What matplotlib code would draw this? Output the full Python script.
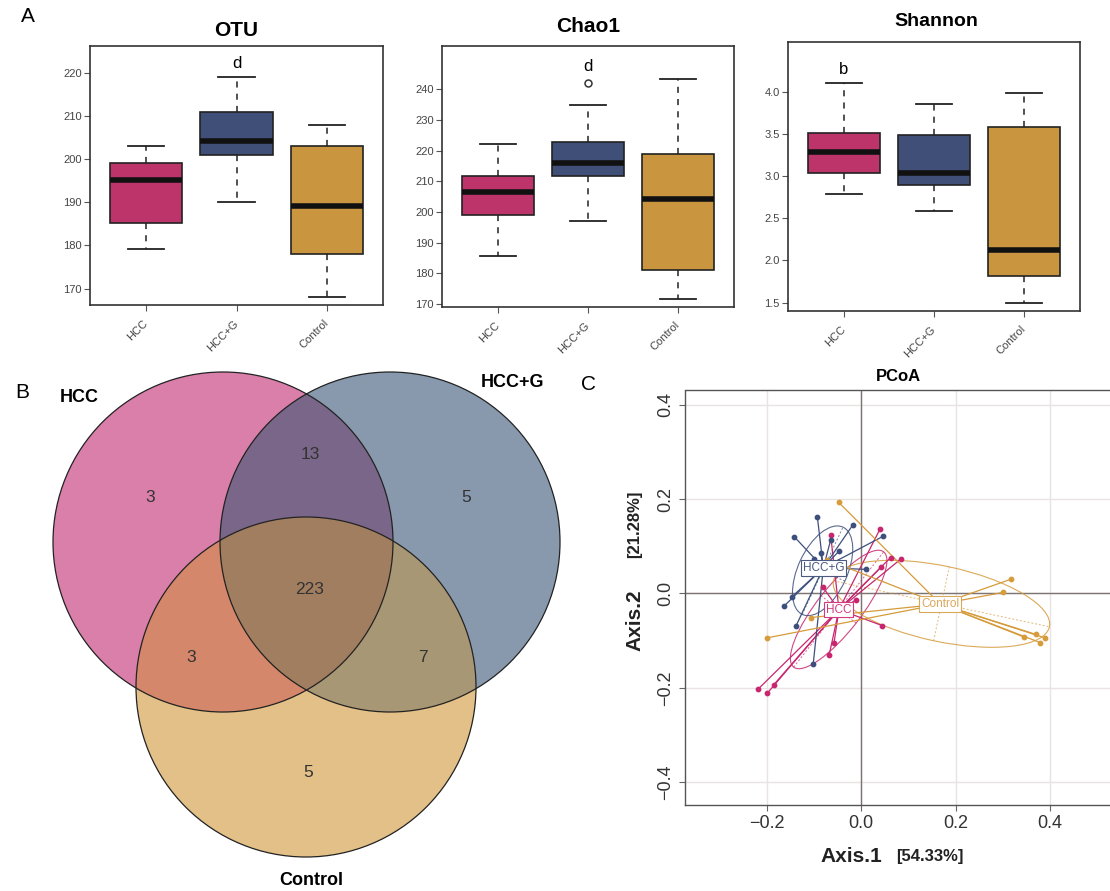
import numpy as np
import matplotlib
matplotlib.use('Agg')
import matplotlib.pyplot as plt
from matplotlib.patches import Circle, Ellipse, Polygon

plt.rcParams['font.family'] = ['Liberation Sans', 'DejaVu Sans']

W, H = 1110, 891

groups = ['HCC', 'HCC+G', 'Control']
box_colors = ['#BC346A', '#3F4F77', '#C9953F']

# --- A: alpha diversity (box stats)
otu_whislo = [179.1, 190.1, 168.1]
otu_q1 = [185.1, 201.0, 178.0]
otu_med = [195.1, 204.1, 189.1]
otu_q3 = [199.0, 211.0, 203.1]
otu_whishi = [203.1, 219.0, 208.0]
otu_fliers = [[], [], []]

chao_whislo = [185.5, 196.9, 171.7]
chao_q1 = [199.1, 211.8, 181.0]
chao_med = [206.4, 216.1, 204.3]
chao_q3 = [211.7, 222.9, 218.8]
chao_whishi = [222.2, 234.9, 243.4]
chao_fliers = [[], [242.0], []]

shan_whislo = [2.79, 2.59, 1.49]
shan_q1 = [3.04, 2.90, 1.82]
shan_med = [3.29, 3.04, 2.12]
shan_q3 = [3.51, 3.49, 3.58]
shan_whishi = [4.10, 3.85, 3.98]
shan_fliers = [[], [], []]

# --- B: venn counts
venn_regions = ['HCC', 'HCC+G', 'Control', 'HCC&HCC+G', 'HCC&Control', 'HCC+G&Control', 'all']
venn_counts = [3, 5, 5, 13, 3, 7, 223]

# --- C: PCoA coordinates
hcc_x = [-0.065, 0.040, 0.062, 0.084, 0.041, -0.082, -0.011, 0.044, -0.058, -0.068, -0.186, -0.218, -0.199]
hcc_y = [0.124, 0.137, 0.076, 0.073, 0.055, 0.014, -0.014, -0.068, -0.106, -0.130, -0.194, -0.202, -0.211]
hccg_x = [-0.093, -0.142, -0.018, 0.046, -0.065, -0.086, -0.048, -0.100, 0.011, -0.147, -0.164, -0.138, -0.102]
hccg_y = [0.161, 0.120, 0.145, 0.121, 0.113, 0.085, 0.089, 0.073, 0.051, -0.007, -0.027, -0.068, -0.150]
ctrl_x = [-0.048, 0.317, 0.300, 0.344, 0.371, 0.389, 0.379, -0.106, -0.199, -0.072]
ctrl_y = [0.193, 0.030, 0.002, -0.092, -0.087, -0.094, -0.104, -0.051, -0.094, 0.071]
# group ellipses (centre, semi axes, angle)
ell_cx = [-0.048, -0.082, 0.170]
ell_cy = [-0.034, 0.048, -0.022]
ell_a = [0.155, 0.102, 0.234]
ell_b = [0.047, 0.052, 0.080]
ell_ang = [52, 65, -12]
pc_colors = ['#C8266F', '#3D4F7C', '#D69B3A']
pc_text_colors = ['#D03C7E', '#4A5A80', '#D9A85A']

fig = plt.figure(figsize=(W / 100, H / 100), dpi=100)


def px_axes(l, t, r, b):
    return fig.add_axes([l / W, 1 - b / H, (r - l) / W, (b - t) / H])


def draw_box(ax, whislo, q1, med, q3, whishi, fliers, ylim, yticks):
    stats = []
    for i in range(3):
        stats.append(dict(whislo=whislo[i], q1=q1[i], med=med[i], q3=q3[i],
                          whishi=whishi[i], fliers=fliers[i]))
    bp = ax.bxp(stats, positions=[1, 2, 3], widths=0.8, patch_artist=True,
                showfliers=True, capwidths=0.4,
                boxprops=dict(lw=1.2, edgecolor='#222222'),
                medianprops=dict(color='#111111', lw=4, solid_capstyle='butt'),
                whiskerprops=dict(color='#222222', lw=1.1, ls=(0, (4, 4))),
                capprops=dict(color='#222222', lw=1.3),
                flierprops=dict(marker='o', mfc='none', mec='#333333', ms=5, mew=1.1))
    for patch, c in zip(bp['boxes'], box_colors):
        patch.set_facecolor(c)
    ax.set_xlim(0.38, 3.62)
    ax.set_ylim(*ylim)
    ax.set_yticks(yticks)
    ax.set_xticks([1, 2, 3])
    ax.set_xticklabels(groups, rotation=45, ha='right', va='center', rotation_mode='anchor')
    ax.tick_params(length=4, width=0.8, color='#555555', labelsize=8, labelcolor='#444444', pad=2)
    ax.tick_params(axis='x', pad=8)
    for s in ax.spines.values():
        s.set_linewidth(1.2)
        s.set_color('#333333')


ax1 = px_axes(90, 46, 383, 305)
draw_box(ax1, otu_whislo, otu_q1, otu_med, otu_q3, otu_whishi, otu_fliers,
         (166.2, 226.2), [170, 180, 190, 200, 210, 220])
ax1.text(2, 222.2, 'd', ha='center', va='center', fontsize=12)
fig.text(236 / W, 1 - 31 / H, 'OTU', ha='center', va='center', fontsize=15, fontweight='bold')

ax2 = px_axes(442, 46, 734, 307)
draw_box(ax2, chao_whislo, chao_q1, chao_med, chao_q3, chao_whishi, chao_fliers,
         (169.0, 254.1), [170, 180, 190, 200, 210, 220, 230, 240])
ax2.text(2, 247.4, 'd', ha='center', va='center', fontsize=12)
fig.text(588 / W, 1 - 27 / H, 'Chao1', ha='center', va='center', fontsize=15, fontweight='bold')

ax3 = px_axes(788, 42, 1080, 311)
draw_box(ax3, shan_whislo, shan_q1, shan_med, shan_q3, shan_whishi, shan_fliers,
         (1.40, 4.59), [1.5, 2.0, 2.5, 3.0, 3.5, 4.0])
ax3.set_yticklabels(['1.5', '2.0', '2.5', '3.0', '3.5', '4.0'])
ax3.text(1, 4.26, 'b', ha='center', va='center', fontsize=12)
fig.text(936 / W, 1 - 22 / H, 'Shannon', ha='center', va='center', fontsize=14, fontweight='bold')

# --- B: Venn
vax = fig.add_axes([0, 0, 620 / W, 551 / H])
vax.set_xlim(0, 620)
vax.set_ylim(891, 340)
vax.axis('off')
R = 170
centers = [(223, 542), (390, 542), (306, 687)]
only_cols = ['#D97FAA', '#8899AE', '#E3C087']
pair_cols = {(0, 1): '#7A6689', (0, 2): '#D4876A', (1, 2): '#A89774'}
triple_col = '#A27E61'
for c, col in zip(centers, only_cols):
    vax.add_patch(Circle(c, R, fc=col, ec='none'))
for (i, j), col in pair_cols.items():
    clip = Circle(centers[i], R, transform=vax.transData)
    p = Circle(centers[j], R, fc=col, ec='none')
    vax.add_patch(p)
    p.set_clip_path(clip)
t = np.linspace(0, 2 * np.pi, 1441)
pts = []
for k in range(3):
    bx = centers[k][0] + R * np.cos(t)
    by = centers[k][1] + R * np.sin(t)
    inside = np.ones_like(t, bool)
    for m in range(3):
        if m != k:
            inside &= (bx - centers[m][0]) ** 2 + (by - centers[m][1]) ** 2 <= R ** 2 + 1e-6
    pts.append(np.c_[bx[inside], by[inside]])
pts = np.vstack(pts)
cen = pts.mean(0)
order = np.argsort(np.arctan2(pts[:, 1] - cen[1], pts[:, 0] - cen[0]))
vax.add_patch(Polygon(pts[order], fc=triple_col, ec='none'))
for c in centers:
    vax.add_patch(Circle(c, R, fill=False, ec='#222222', lw=0.9))

venn_pos = [(150, 497), (466, 497), (308, 772), (310, 454), (191, 657), (423, 657), (310, 589)]
for (x, y), n in zip(venn_pos, venn_counts):
    vax.text(x, y, str(n), ha='center', va='center', fontsize=12.5, color='#333333')
vax.text(79, 397, 'HCC', ha='center', va='center', fontsize=13, fontweight='bold')
vax.text(513, 382, 'HCC+G', ha='center', va='center', fontsize=13, fontweight='bold')
vax.text(311, 880, 'Control', ha='center', va='center', fontsize=13, fontweight='bold')

# panel letters
fig.text(28 / W, 1 - 16 / H, 'A', ha='center', va='center', fontsize=15)
fig.text(22 / W, 1 - 392 / H, 'B', ha='center', va='center', fontsize=15)
fig.text(588 / W, 1 - 385 / H, 'C', ha='center', va='center', fontsize=15)

# --- C: PCoA
pax = px_axes(685, 390.5, 1112, 805)
pax.set_xlim(-0.3738, 0.5316)
pax.set_ylim(-0.4483, 0.430)
pax.set_xticks([-0.2, 0.0, 0.2, 0.4])
pax.set_yticks([-0.4, -0.2, 0.0, 0.2, 0.4])
pax.set_xticklabels(['\u22120.2', '0.0', '0.2', '0.4'])
pax.set_yticklabels(['\u22120.4', '\u22120.2', '0.0', '0.2', '0.4'], rotation=90, va='center')
pax.grid(True, color='#EAE3E3', lw=1)
pax.set_axisbelow(True)
pax.axhline(0, color='#7F7474', lw=1, zorder=1)
pax.axvline(0, color='#7F7474', lw=1, zorder=1)
pax.spines['right'].set_visible(False)
for s in ['left', 'bottom', 'top']:
    pax.spines[s].set_color('#555555')
    pax.spines[s].set_linewidth(1.0)
pax.tick_params(length=4, width=0.8, color='#666666', labelsize=13, labelcolor='#333333')
pax.set_title('PCoA', fontsize=12, fontweight='bold', pad=7)

for k, (xs, ys, col, tcol, name) in enumerate(zip([hcc_x, hccg_x, ctrl_x], [hcc_y, hccg_y, ctrl_y],
                                                  pc_colors, pc_text_colors, groups)):
    x = np.array(xs)
    y = np.array(ys)
    cx, cy = x.mean(), y.mean()
    ex, ey, a, b = ell_cx[k], ell_cy[k], ell_a[k], ell_b[k]
    th = np.radians(ell_ang[k])
    pax.add_patch(Ellipse((ex, ey), 2 * a, 2 * b, angle=ell_ang[k], fill=False, ec=col, lw=0.8, alpha=0.85))
    u = np.array([np.cos(th), np.sin(th)]) * a
    v = np.array([-np.sin(th), np.cos(th)]) * b
    pax.plot([ex - u[0], ex + u[0]], [ey - u[1], ey + u[1]], ls=(0, (2, 2)), color=col, lw=0.7, alpha=0.7)
    pax.plot([ex - v[0], ex + v[0]], [ey - v[1], ey + v[1]], ls=(0, (2, 2)), color=col, lw=0.7, alpha=0.7)
    for xi, yi in zip(x, y):
        pax.plot([cx, xi], [cy, yi], color=col, lw=0.9, zorder=3)
    pax.scatter(x, y, s=10, color=col, zorder=4)
    pax.text(cx, cy, name, color=tcol, fontsize=8.5, ha='center', va='center', zorder=5,
             bbox=dict(boxstyle='square,pad=0.15', fc='white', ec=tcol, lw=0.8))

fig.text(851 / W, 1 - 857 / H, 'Axis.1', ha='center', va='center', fontsize=15, fontweight='bold', color='#222222')
fig.text(930 / W, 1 - 857 / H, '[54.33%]', ha='center', va='center', fontsize=12, fontweight='bold', color='#222222')
fig.text(635 / W, 1 - 620 / H, 'Axis.2', ha='center', va='center', fontsize=15, fontweight='bold', rotation=90, color='#222222')
fig.text(635 / W, 1 - 524 / H, '[21.28%]', ha='center', va='center', fontsize=12, fontweight='bold', rotation=90, color='#222222')

fig.savefig('out.png', dpi=100)
